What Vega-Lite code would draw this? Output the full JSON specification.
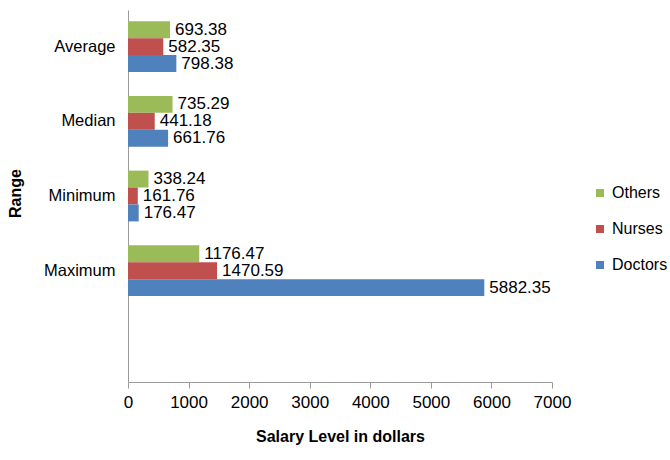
{
  "$schema": "https://vega.github.io/schema/vega-lite/v6.json",
  "width": 424,
  "height": 372,
  "autosize": {"type": "none"},
  "padding": {"left": 128, "top": 10, "right": 118, "bottom": 78},
  "background": "white",
  "config": {
    "font": "Liberation Sans",
    "view": {"stroke": null},
    "axis": {"grid": false, "domainColor": "#9a9a9a", "tickColor": "#9a9a9a", "labelColor": "#000000", "titleColor": "#000000"}
  },
  "data": {
    "values": [
      {"Range": "Average", "Group": "Others", "Salary": 693.38},
      {"Range": "Average", "Group": "Nurses", "Salary": 582.35},
      {"Range": "Average", "Group": "Doctors", "Salary": 798.38},
      {"Range": "Median", "Group": "Others", "Salary": 735.29},
      {"Range": "Median", "Group": "Nurses", "Salary": 441.18},
      {"Range": "Median", "Group": "Doctors", "Salary": 661.76},
      {"Range": "Minimum", "Group": "Others", "Salary": 338.24},
      {"Range": "Minimum", "Group": "Nurses", "Salary": 161.76},
      {"Range": "Minimum", "Group": "Doctors", "Salary": 176.47},
      {"Range": "Maximum", "Group": "Others", "Salary": 1176.47},
      {"Range": "Maximum", "Group": "Nurses", "Salary": 1470.59},
      {"Range": "Maximum", "Group": "Doctors", "Salary": 5882.35}
    ]
  },
  "encoding": {
    "y": {
      "field": "Range",
      "type": "nominal",
      "scale": {"domain": ["Average", "Median", "Minimum", "Maximum", " "], "paddingInner": 0.32, "paddingOuter": 0.15},
      "axis": {
        "title": "Range",
        "titleFontSize": 16,
        "titleFontWeight": "bold",
        "titleAngle": -90,
        "titleX": -113,
        "titleY": 183,
        "titleAlign": "center",
        "titleBaseline": "middle",
        "labelFontSize": 16.5,
        "labelPadding": 13,
        "ticks": false
      }
    },
    "yOffset": {
      "field": "Group",
      "type": "nominal",
      "scale": {"domain": ["Others", "Nurses", "Doctors"], "paddingInner": 0, "paddingOuter": 0}
    },
    "x": {
      "field": "Salary",
      "type": "quantitative",
      "scale": {"domain": [0, 7000], "nice": false},
      "axis": {
        "values": [0, 1000, 2000, 3000, 4000, 5000, 6000, 7000],
        "format": "d",
        "labelFlush": false,
        "title": "Salary Level in dollars",
        "titleFontSize": 16,
        "titleFontWeight": "bold",
        "titlePadding": 18,
        "labelFontSize": 17,
        "labelPadding": 6,
        "tickSize": 6
      }
    }
  },
  "layer": [
    {
      "mark": {"type": "bar"},
      "encoding": {
        "color": {
          "field": "Group",
          "type": "nominal",
          "scale": {"domain": ["Others", "Nurses", "Doctors"], "range": ["#9BBB59", "#C0504D", "#4F81BD"]},
          "legend": {
            "title": null,
            "orient": "none",
            "legendX": 464,
            "legendY": 175,
            "symbolType": "square",
            "symbolSize": 64,
            "symbolStrokeWidth": 0,
            "labelFontSize": 16,
            "labelOffset": 4,
            "rowPadding": 20
          }
        }
      }
    },
    {
      "mark": {"type": "text", "align": "left", "baseline": "middle", "dx": 5, "fontSize": 17, "color": "#000000"},
      "encoding": {
        "text": {"field": "Salary", "type": "quantitative", "format": ".2f"}
      }
    }
  ]
}
